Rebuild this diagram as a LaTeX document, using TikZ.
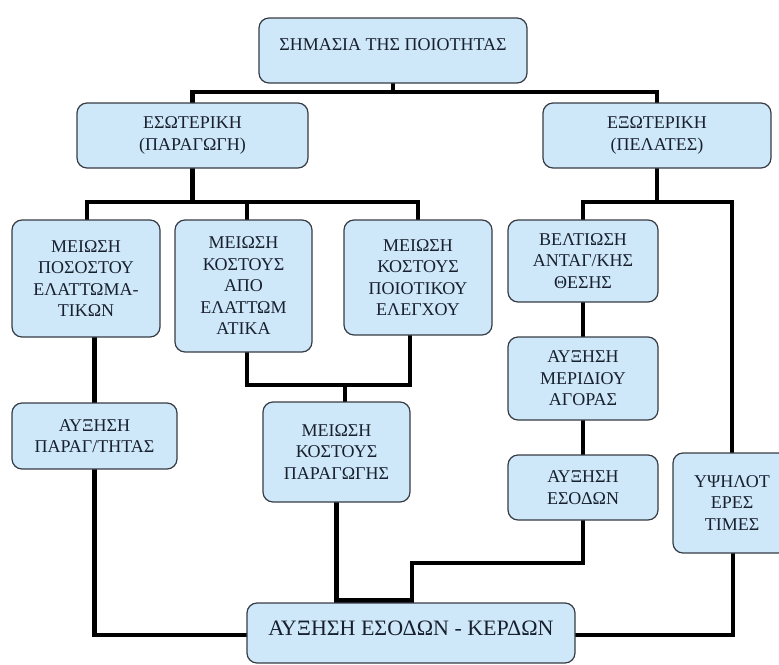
\documentclass[tikz,border=0pt]{standalone}
\usepackage{fontspec}
\setmainfont{Liberation Serif}
\usetikzlibrary{calc,backgrounds}
\definecolor{boxfill}{RGB}{206,232,250}
\definecolor{boxline}{RGB}{55,60,68}
\definecolor{boxtext}{RGB}{24,32,46}
\tikzset{
  card/.style={draw=boxline, line width=1.2pt, fill=boxfill, rounded corners=10pt,
    align=center, text=boxtext, inner sep=0pt,
    font=\fontsize{18}{21.5}\selectfont},
  conn/.style={draw=black, line width=4.2pt, line cap=rect, line join=miter},
}
\begin{document}
\begin{tikzpicture}[x=1pt, y=-1pt]
\useasboundingbox (0,0) rectangle (779,664);
\clip (0,0) rectangle (779,664);

% bus levels of the connector tree
\coordinate (busA) at (0,92);
\coordinate (busB) at (0,202);
\coordinate (busC) at (0,385);
\coordinate (busD) at (0,563);
\coordinate (busE) at (0,635);
\coordinate (gj)   at (412,0);

% boxes
\node[card, minimum width=268pt, minimum height=65pt, text depth=12pt] (top) at (393,50.5)
  {ΣΗΜΑΣΙΑ ΤΗΣ ΠΟΙΟΤΗΤΑΣ};
\node[card, minimum width=231pt, minimum height=65pt] (esw) at (192.5,135.5)
  {ΕΣΩΤΕΡΙΚΗ\\(ΠΑΡΑΓΩΓΗ)};
\node[card, minimum width=228pt, minimum height=65pt] (exw) at (657,135.5)
  {ΕΞΩΤΕΡΙΚΗ\\(ΠΕΛΑΤΕΣ)};

\node[card, minimum width=148pt, minimum height=117pt] (b1) at (86,278.5)
  {ΜΕΙΩΣΗ\\ΠΟΣΟΣΤΟΥ\\ΕΛΑΤΤΩΜΑ-\\ΤΙΚΩΝ};
\node[card, minimum width=137pt, minimum height=132pt] (b2) at (243.5,286)
  {ΜΕΙΩΣΗ\\ΚΟΣΤΟΥΣ\\ΑΠΟ\\ΕΛΑΤΤΩΜ\\ΑΤΙΚΑ};
\node[card, minimum width=148pt, minimum height=115pt] (b3) at (418,277.5)
  {ΜΕΙΩΣΗ\\ΚΟΣΤΟΥΣ\\ΠΟΙΟΤΙΚΟΥ\\ΕΛΕΓΧΟΥ};

\node[card, minimum width=150pt, minimum height=82pt] (c1) at (583,261)
  {ΒΕΛΤΙΩΣΗ\\ΑΝΤΑΓ/ΚΗΣ\\ΘΕΣΗΣ};
\node[card, minimum width=150pt, minimum height=83pt] (c2) at (583,378.5)
  {ΑΥΞΗΣΗ\\ΜΕΡΙΔΙΟΥ\\ΑΓΟΡΑΣ};
\node[card, minimum width=150pt, minimum height=65pt] (c3) at (583,487.5)
  {ΑΥΞΗΣΗ\\ΕΣΟΔΩΝ};
\node[card, minimum width=118pt, minimum height=100pt] (d) at (732,503)
  {ΥΨΗΛΟΤ\\ΕΡΕΣ\\ΤΙΜΕΣ};

\node[card, minimum width=165pt, minimum height=66pt] (e) at (94.5,436)
  {ΑΥΞΗΣΗ\\ΠΑΡΑΓ/ΤΗΤΑΣ};
\node[card, minimum width=147pt, minimum height=100pt] (f) at (336.5,452)
  {ΜΕΙΩΣΗ\\ΚΟΣΤΟΥΣ\\ΠΑΡΑΓΩΓΗΣ};

\node[card, minimum width=328pt, minimum height=60pt, text depth=10pt,
      font=\fontsize{22}{25}\selectfont] (g) at (411,633)
  {ΑΥΞΗΣΗ ΕΣΟΔΩΝ - ΚΕΡΔΩΝ};

% connectors, drawn behind the boxes
\begin{scope}[on background layer]
  % first level
  \draw[conn] (top.south) -- (top.south |- busA);
  \draw[conn] (esw.north) -- (esw.north |- busA) -- (exw.north |- busA) -- (exw.north);
  % internal branch
  \draw[conn] (esw.south) -- (esw.south |- busB);
  \draw[conn] ($(b1.north)+(1,0)$) -- ($(b1.north |- busB)+(1,0)$)
              -- (b3.north |- busB) -- (b3.north);
  \draw[conn] ($(b2.north)+(3.5,0)$) -- ($(b2.north |- busB)+(3.5,0)$);
  % external branch
  \draw[conn] (exw.south) -- (exw.south |- busB);
  \draw[conn] (c1.north) -- (c1.north |- busB) -- (d.north |- busB) -- (d.north);
  \draw[conn] (c1.south) -- (c2.north);
  \draw[conn] (c2.south) -- (c3.north);
  % defect rate -> productivity -> result
  \draw[conn] (e.north |- b1.south) -- (e.north);
  \draw[conn] (e.south) -- (e.south |- busE) -- (g.west |- busE);
  % cost branches merge into production cost
  \draw[conn] ($(b2.south)+(3.5,0)$) -- ($(b2.south |- busC)+(3.5,0)$)
              -- ($(b3.south |- busC)+(-8,0)$) -- ($(b3.south)+(-8,0)$);
  \draw[conn] ($(f.north)+(8.5,0)$) -- ($(f.north |- busC)+(8.5,0)$);
  \draw[conn] (f.south) -- (f.south |- g.north);
  % revenues -> result
  \draw[conn] (c3.south) -- (c3.south |- busD) -- (gj |- busD)
              -- ($(gj |- g.north)+(0,-2)$) -- ($(f.south |- g.north)+(0,-2)$);
  % higher prices -> result
  \draw[conn] ($(d.south)+(1,0)$) -- ($(d.south |- busE)+(1,0)$) -- (g.east |- busE);
\end{scope}
\end{tikzpicture}
\end{document}
